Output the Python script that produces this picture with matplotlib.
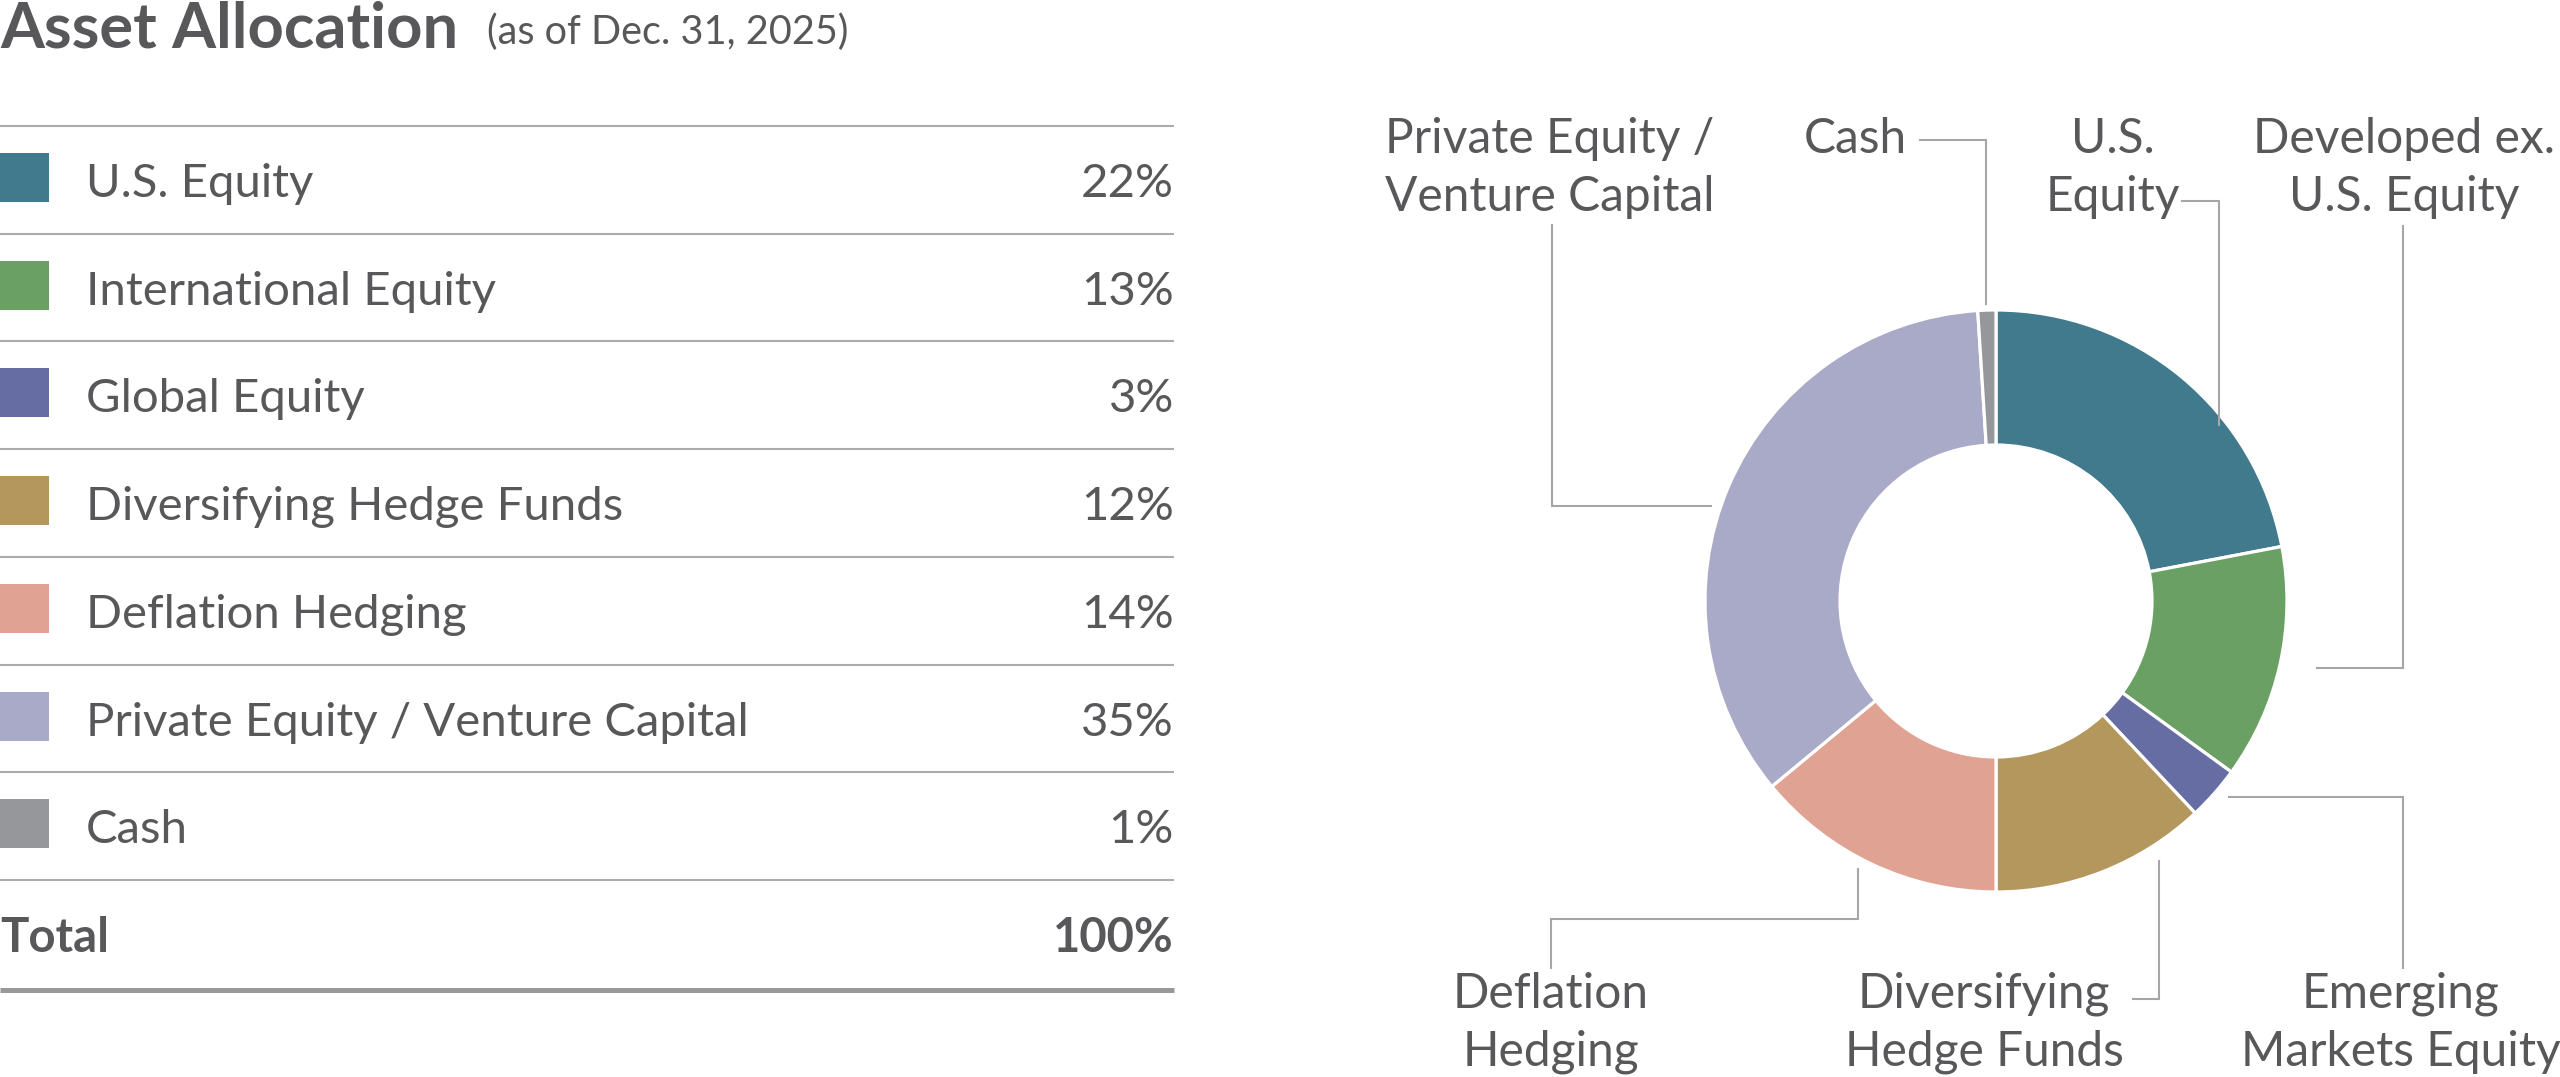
import matplotlib
matplotlib.use("Agg")
import matplotlib.pyplot as plt
from matplotlib.patches import Rectangle

# data
categories = ["U.S. Equity", "International Equity", "Global Equity",
              "Diversifying Hedge Funds", "Deflation Hedging",
              "Private Equity / Venture Capital", "Cash"]
weights = [22, 13, 3, 12, 14, 35, 1]
colors = ["#417a8c", "#6ba064", "#666da3", "#b4975c", "#e0a393", "#a9a9c8", "#96979b"]
donut_labels = ["U.S.\nEquity", "Developed ex.\nU.S. Equity", "Emerging\nMarkets Equity",
                "Diversifying\nHedge Funds", "Deflation\nHedging",
                "Private Equity /\nVenture Capital", "Cash"]

TXT = "#58585a"
RULE = "#ababab"
FONT = "Lato"

W, H = 2560, 1077
fig = plt.figure(figsize=(W / 100, H / 100), dpi=100)
ax = fig.add_axes([0, 0, 1, 1])

# title
ax.text(0, 47, "Asset Allocation", fontsize=45.5, fontweight="bold", color=TXT,
        family=FONT, va="baseline", ha="left")
ax.text(487, 44, "(as of Dec. 31, 2025)", fontsize=28.5, color=TXT,
        family=FONT, va="baseline", ha="left")

# table
top = 126
step = 107.7
right = 1174
ax.plot([0, right], [top, top], color=RULE, lw=1.5, solid_capstyle="butt")
for i, (cat, w, c) in enumerate(zip(categories, weights, colors)):
    y0 = top + i * step
    ax.add_patch(Rectangle((0, y0 + 27), 49, 49, color=c, lw=0))
    ax.text(86, y0 + 71, cat, fontsize=34, color=TXT, family=FONT, va="baseline")
    ax.text(right, y0 + 71, f"{w}%", fontsize=34, color=TXT, family=FONT,
            va="baseline", ha="right")
    ax.plot([0, right], [y0 + step, y0 + step], color=RULE, lw=1.5, solid_capstyle="butt")

y0 = top + len(categories) * step
ax.text(0, y0 + 72, "Total", fontsize=34, fontweight="bold", color=TXT, family=FONT,
        va="baseline")
ax.text(right, y0 + 72, f"{sum(weights)}%", fontsize=34, fontweight="bold", color=TXT,
        family=FONT, va="baseline", ha="right")
ax.plot([0, right], [990, 990], color="#98989b", lw=3.6, solid_capstyle="butt")

# donut (y axis is flipped, so counterclock=True draws clockwise on screen)
cx, cy, R = 1996, 601, 291
ax.pie(weights, colors=colors, startangle=-90, counterclock=True,
       center=(cx, cy), radius=R,
       wedgeprops=dict(width=135, edgecolor="white", linewidth=2.3))

# leader lines and labels
leaders = [
    [(2182, 201), (2219, 201), (2219, 425)],
    [(2403, 226), (2403, 668), (2317, 668)],
    [(2229, 797), (2403, 797), (2403, 968)],
    [(2133, 999), (2159, 999), (2159, 861)],
    [(1551, 968), (1551, 919), (1858, 919), (1858, 869)],
    [(1552, 225), (1552, 506), (1711, 506)],
    [(1920, 140), (1986, 140), (1986, 304)],
]
label_pos = [(2113, 153, "center"), (2404, 153, "center"), (2401, 1008, "center"),
             (1984, 1008, "center"), (1551, 1008, "center"), (1550, 153, "center"),
             (1907, 153, "right")]
for pts, (lx, ly, ha), lab in zip(leaders, label_pos, donut_labels):
    xs, ys = zip(*pts)
    ax.plot(xs, ys, color="#a6a6a6", lw=1.5, solid_joinstyle="miter")
    for k, line in enumerate(lab.split("\n")):
        ax.text(lx, ly + k * 58, line, fontsize=34.5, color=TXT, family=FONT,
                ha=ha, va="baseline")

ax.set_xlim(0, W)
ax.set_ylim(H, 0)
ax.set_aspect("auto")
ax.axis("off")

fig.savefig("out.png", dpi=100, facecolor="white")
